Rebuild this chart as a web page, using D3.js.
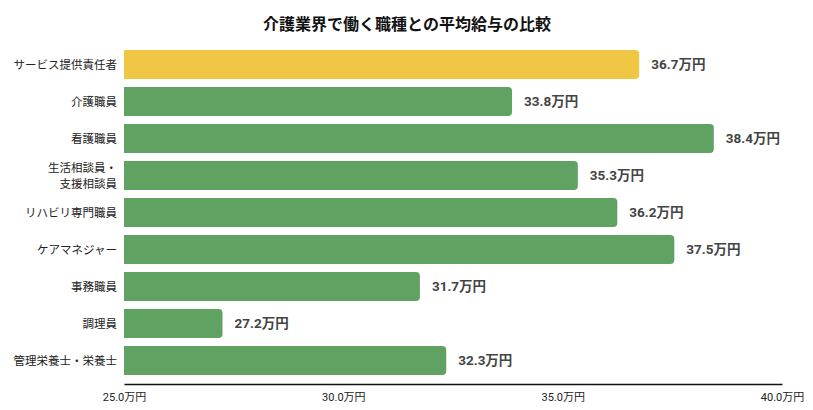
<!DOCTYPE html>
<html lang="ja">
<head>
<meta charset="utf-8">
<title>介護業界で働く職種との平均給与の比較</title>
<script src="https://d3js.org/d3.v7.min.js"></script>
<style>
  body { margin: 0; background: #fff; }
  text { font-family: "Noto Sans CJK JP", "Noto Sans", sans-serif; }
</style>
</head>
<body>
<script>
// data
var categories = ["サービス提供責任者", "介護職員", "看護職員", "生活相談員・\n支援相談員",
                  "リハビリ専門職員", "ケアマネジャー", "事務職員", "調理員", "管理栄養士・栄養士"];
var salaries = [36.7, 33.8, 38.4, 35.3, 36.2, 37.5, 31.7, 27.2, 32.3];
var tickValues = [25, 30, 35, 40];
var highlight = "サービス提供責任者";

var width = 813, height = 410;
var margin = {top: 46, right: 31, bottom: 31, left: 124};

var svg = d3.select("body").append("svg")
    .attr("width", width)
    .attr("height", height);

//Title
svg.append("text")
   .attr("x", 407)
   .attr("y", 30)
   .attr("text-anchor", "middle")
   .style("font-size", "16px")
   .style("font-weight", "bold")
   .attr("fill", "#111")
   .text("介護業界で働く職種との平均給与の比較");

var xScale = d3.scaleLinear()
    .domain([25, 40])
    .range([margin.left, width - margin.right]);

var yScale = d3.scaleBand()
    .domain(categories)
    .range([margin.top, 379])
    .paddingInner(0.216)
    .paddingOuter(0.108);

var fmt = d3.format(".1f");

// bars, square on the left and rounded on the right
var r = 4;
svg.selectAll("path.bar")
   .data(categories)
   .enter()
   .append("path")
   .attr("class", "bar")
   .attr("fill", function (d) { return d == highlight ? "#f0c744" : "#60a262"; })
   .attr("d", function (d, i) {
       var x0 = xScale(25), x1 = xScale(salaries[i]) + 2;
       var y0 = yScale(d), h = yScale.bandwidth();
       return "M" + x0 + "," + y0 + "H" + (x1 - r) +
              "Q" + x1 + "," + y0 + " " + x1 + "," + (y0 + r) +
              "V" + (y0 + h - r) +
              "Q" + x1 + "," + (y0 + h) + " " + (x1 - r) + "," + (y0 + h) +
              "H" + x0 + "Z";
   });

// value labels
svg.selectAll("text.val")
   .data(categories)
   .enter()
   .append("text")
   .attr("class", "val")
   .attr("x", function (d, i) { return xScale(salaries[i]) + 14; })
   .attr("y", function (d) { return yScale(d) + yScale.bandwidth() / 2; })
   .attr("dy", "0.36em")
   .attr("fill", "#444")
   .style("font-size", "13.5px")
   .style("font-weight", "bold")
   .style("font-family", "Roboto, 'Noto Sans CJK JP', sans-serif")
   .text(function (d, i) { return fmt(salaries[i]) + "万円"; });

// category labels (some on two lines)
var cat = svg.selectAll("text.cat")
   .data(categories)
   .enter()
   .append("text")
   .attr("class", "cat")
   .attr("text-anchor", "end")
   .attr("fill", "#222")
   .style("font-size", "11.5px")
   .attr("y", function (d) { return yScale(d) + yScale.bandwidth() / 2; });

cat.each(function (d) {
    var lines = d.split("\n");
    var t = d3.select(this);
    lines.forEach(function (line, k) {
        t.append("tspan")
         .attr("x", margin.left - 7)
         .attr("dy", k == 0 ? (0.36 - (lines.length - 1) * 0.7) + "em" : "1.4em")
         .text(line);
    });
});

//X axis
var xAxis = svg.append("g")
   .attr("transform", "translate(0,384)")
   .call(d3.axisBottom(xScale)
           .tickValues(tickValues)
           .tickSize(0)
           .tickPadding(9)
           .tickFormat(function (d) { return fmt(d) + "万円"; }));

xAxis.select(".domain").attr("stroke", "#111").attr("stroke-width", 1.5);
xAxis.selectAll("text")
     .attr("fill", "#222")
     .style("font-size", "11px")
     .style("font-family", "Roboto, 'Noto Sans CJK JP', sans-serif");
</script>
</body>
</html>
